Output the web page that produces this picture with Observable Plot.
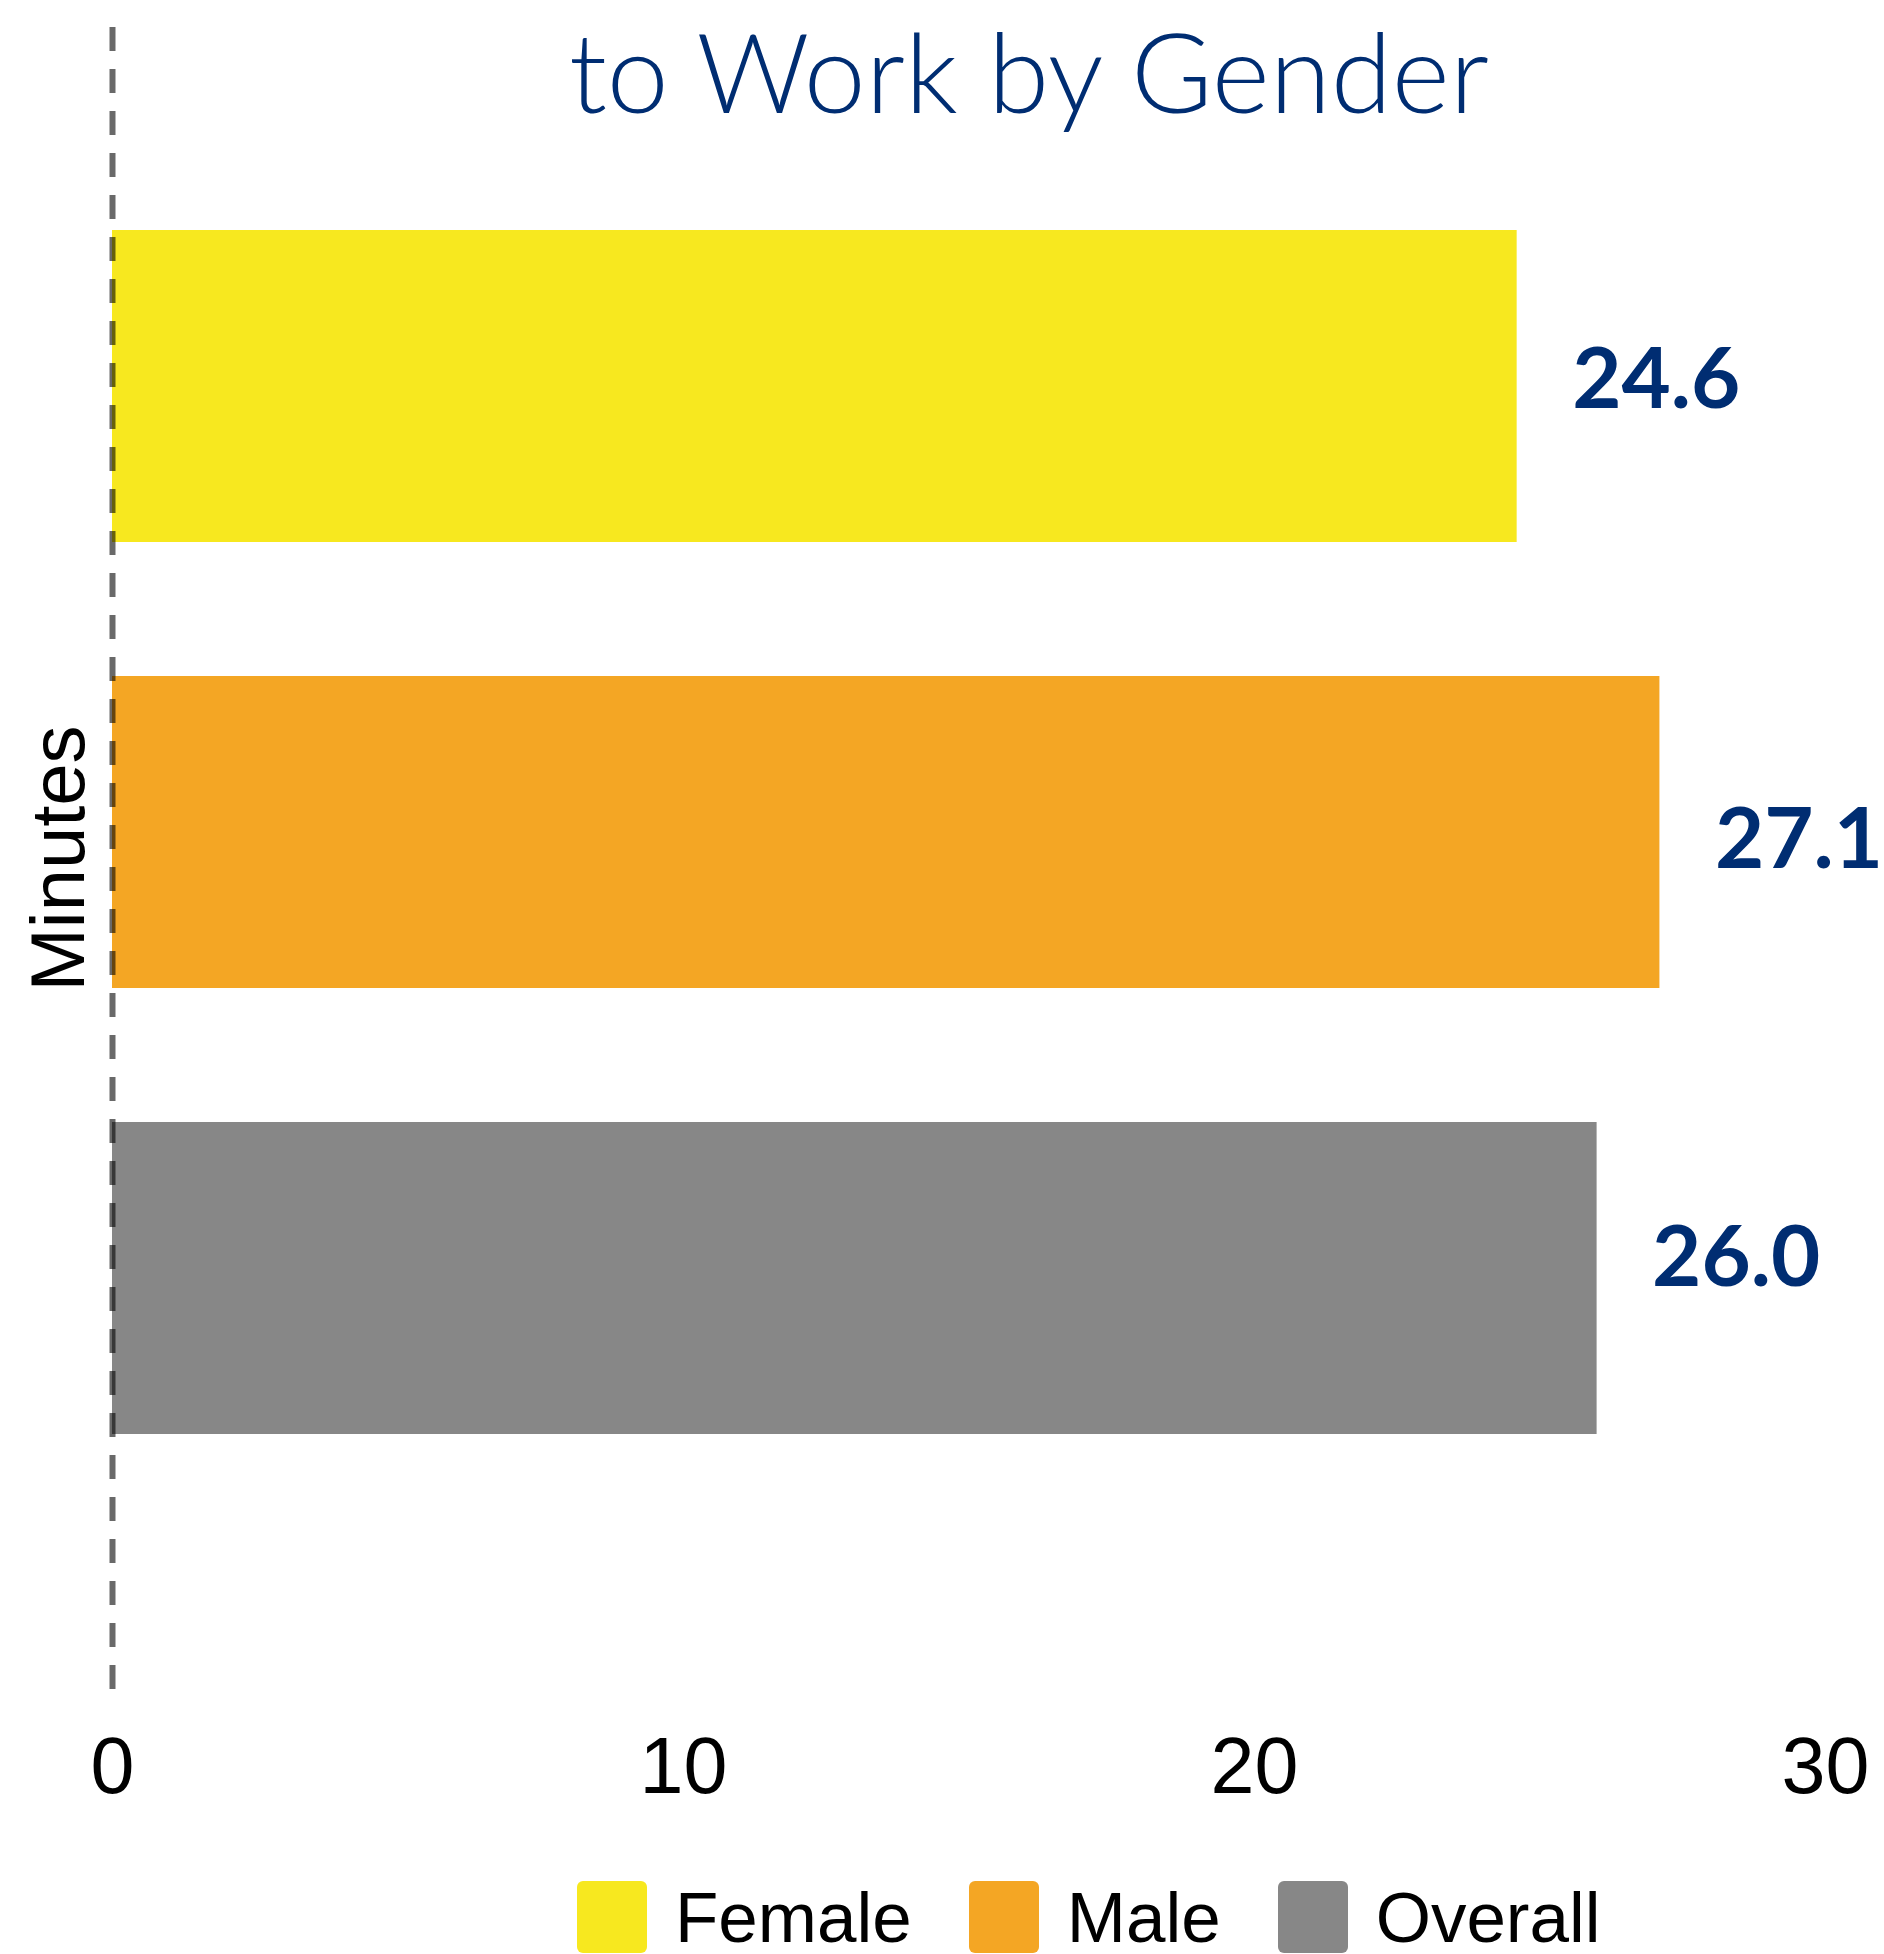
<!DOCTYPE html>
<html>
<head>
<meta charset="utf-8">
<script src="https://cdn.jsdelivr.net/npm/d3@7"></script>
<script src="https://cdn.jsdelivr.net/npm/@observablehq/plot@0.6"></script>
<style>
  html, body { margin: 0; padding: 0; background: #fff; }
  #wrap { position: relative; width: 1884px; height: 1954px; overflow: hidden; }
  #chart { position: absolute; left: 0; top: 0; }
  #title {
    position: absolute; left: 1029px; top: 15px; transform: translateX(-50%);
    white-space: nowrap; font-family: Lato, "Noto Sans", sans-serif; font-size: 111px;
    line-height: 111px; color: #002D72; font-weight: 300;
  }
  #legend {
    position: absolute; left: 577px; top: 1881px; height: 72px;
    display: flex; align-items: center;
    font-family: "Liberation Sans", Arial, sans-serif; font-size: 71px; line-height: 1; color: #000;
  }
  .item { display: flex; align-items: center; margin-right: 57px; }
  .item span { line-height: 1; display: inline-block; }
  .sw { width: 70px; height: 72px; border-radius: 6px; margin-right: 28px; }
</style>
</head>
<body>
<div id="wrap">
  <div id="chart"></div>
  <div id="title"></div>
  <div id="legend"></div>
</div>
<script>
const titleText = "to Work by Gender";
const categories = ["Female", "Male", "Overall"];
const minutes = [24.6, 27.1, 26.0];
const valueLabels = ["24.6", "27.1", "26.0"];
const colors = ["#F7E81F", "#F4A624", "#878787"];
const xTicks = [0, 10, 20, 30];
const yLabel = "Minutes";

const data = categories.map((c, i) => ({category: c, minutes: minutes[i], label: valueLabels[i]}));

// label vertical nudges, as placed in the reference
const labelDy = {Female: -6, Male: 8, Overall: -20};
const labelStyle = {x: "minutes", y: "category", text: "label", dx: 55, textAnchor: "start",
  fill: "#002D72", fontSize: 85, fontWeight: 700, fontFamily: "Lato, 'Noto Sans', sans-serif"};

const chart = Plot.plot({
  width: 1884,
  height: 1829,
  marginLeft: 112,
  marginRight: 59,
  marginTop: 27,
  marginBottom: 140,
  style: {fontFamily: "'Liberation Sans', Arial, sans-serif", fontSize: "79px", color: "#000", background: "transparent", overflow: "visible"},
  x: {domain: [0, 30], ticks: xTicks, tickSize: 0, tickPadding: 47, label: null},
  y: {domain: categories, paddingInner: 0.3, paddingOuter: 0.511, align: 0.443, axis: null},
  color: {domain: categories, range: colors},
  marks: [
    Plot.barX(data, {x: "minutes", y: "category", fill: "category"}),
    Plot.ruleX([0], {stroke: "#000", strokeOpacity: 0.59, strokeWidth: 6, strokeDasharray: "24,18"}),
    ...categories.map(c => Plot.text(data.filter(d => d.category === c), {...labelStyle, dy: labelDy[c]})),
    Plot.text([yLabel], {text: d => d, frameAnchor: "left", textAnchor: "middle", rotate: -90, dx: -29, lineAnchor: "bottom",
      fontSize: 76, fill: "#000"})
  ]
});
document.getElementById("chart").appendChild(chart);

document.getElementById("title").textContent = titleText;

const legend = document.getElementById("legend");
categories.forEach((c, i) => {
  const item = document.createElement("div");
  item.className = "item";
  const sw = document.createElement("div");
  sw.className = "sw";
  sw.style.background = colors[i];
  const t = document.createElement("span");
  t.textContent = c;
  item.appendChild(sw);
  item.appendChild(t);
  legend.appendChild(item);
});
</script>
</body>
</html>
